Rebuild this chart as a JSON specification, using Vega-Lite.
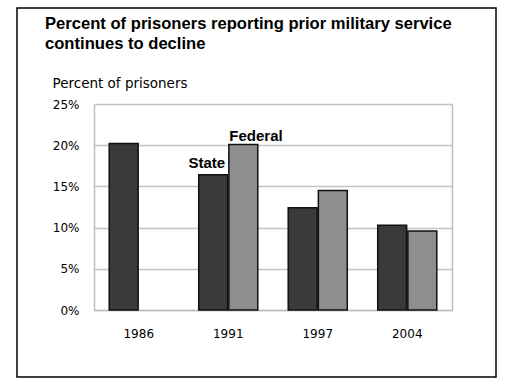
{
  "$schema": "https://vega.github.io/schema/vega-lite/v6.json",
  "width": 479,
  "height": 369,
  "padding": {"left": 17, "top": 8, "right": 16, "bottom": 10},
  "autosize": {"type": "none"},
  "background": "white",
  "title": {
    "text": ["Percent of prisoners reporting prior military service", "continues to decline"],
    "anchor": "start",
    "frame": "group",
    "font": "Liberation Sans",
    "fontSize": 16.6,
    "fontWeight": "bold",
    "color": "#000",
    "lineHeight": 20,
    "baseline": "top",
    "offset": 0,
    "dx": 28,
    "dy": 45
  },
  "data": {
    "values": [
      {"year": "1986", "series": "State", "value": 0.202},
      {"year": "1991", "series": "State", "value": 0.164},
      {"year": "1991", "series": "Federal", "value": 0.201},
      {"year": "1997", "series": "State", "value": 0.124},
      {"year": "1997", "series": "Federal", "value": 0.145},
      {"year": "2004", "series": "State", "value": 0.103},
      {"year": "2004", "series": "Federal", "value": 0.096}
    ]
  },
  "encoding": {
    "x": {
      "field": "year",
      "type": "nominal",
      "sort": ["1986", "1991", "1997", "2004"],
      "scale": {"domain": ["1986", "1991", "1997", "2004"], "range": [77, 435], "paddingInner": 0.34, "paddingOuter": 0.17},
      "axis": {
        "orient": "bottom",
        "offset": -67,
        "title": null,
        "labelAngle": 0,
        "labelFont": "DejaVu Sans",
        "labelFontSize": 12,
        "labelColor": "#000",
        "labelPadding": 18,
        "ticks": false,
        "domainColor": "#bdbdbd",
        "domainWidth": 1.5,
        "grid": false
      }
    },
    "xOffset": {
      "field": "series",
      "type": "nominal",
      "scale": {"domain": ["State", "Federal"], "paddingInner": 0.04}
    }
  },
  "layer": [
    {
      "mark": {"type": "bar", "stroke": "#111", "strokeWidth": 1.5, "clip": false},
      "encoding": {
        "y": {
          "field": "value",
          "type": "quantitative",
          "scale": {"domain": [0, 0.25], "range": [302, 96], "nice": false, "zero": true},
          "axis": {
            "orient": "left",
            "offset": -77,
            "format": ".0%",
            "values": [0, 0.05, 0.1, 0.15, 0.2, 0.25],
            "grid": true,
            "gridColor": "#c4c4c4",
            "gridWidth": 1.5,
            "domainColor": "#bdbdbd",
            "domainWidth": 1.5,
            "ticks": false,
            "labelPadding": 15,
            "labelFont": "DejaVu Sans",
            "labelFontSize": 12,
            "labelColor": "#000",
            "title": "Percent of prisoners",
            "titleAngle": 0,
            "titleX": -42,
            "titleY": 79.5,
            "titleAlign": "left",
            "titleBaseline": "alphabetic",
            "titleFont": "DejaVu Sans",
            "titleFontSize": 13.5,
            "titleFontWeight": "normal",
            "titleColor": "#000"
          }
        },
        "color": {
          "field": "series",
          "type": "nominal",
          "scale": {"domain": ["State", "Federal"], "range": ["#3a3a3a", "#8e8e8e"]},
          "legend": null
        }
      }
    },
    {
      "data": {"values": [{"year": "1991", "series": "State", "value": 0.164, "label": "State"}]},
      "mark": {"type": "text", "align": "right", "baseline": "alphabetic", "dx": 12, "dy": -7, "font": "Liberation Sans", "fontSize": 15, "fontWeight": "bold", "color": "#000", "clip": false},
      "encoding": {
        "y": {
          "field": "value",
          "type": "quantitative",
          "axis": {
            "orient": "right",
            "offset": -44,
            "labels": false,
            "ticks": false,
            "grid": false,
            "title": null,
            "domainColor": "#bdbdbd",
            "domainWidth": 1.5
          }
        },
        "text": {"field": "label"}
      }
    },
    {
      "data": {"values": [{"year": "1991", "series": "Federal", "value": 0.201, "label": "Federal"}]},
      "mark": {"type": "text", "align": "left", "baseline": "alphabetic", "dx": -14, "dy": -3, "font": "Liberation Sans", "fontSize": 15, "fontWeight": "bold", "color": "#000", "clip": false},
      "encoding": {
        "y": {"field": "value", "type": "quantitative", "axis": null},
        "text": {"field": "label"}
      }
    }
  ],
  "resolve": {"axis": {"y": "independent"}},
  "config": {
    "view": {"stroke": "#000", "strokeWidth": 1.5},
    "axis": {"labelOverlap": false}
  }
}
